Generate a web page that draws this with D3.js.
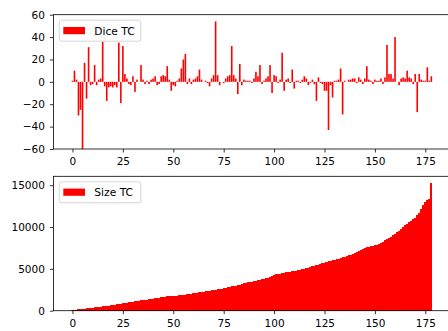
<!DOCTYPE html>
<html>
<head>
<meta charset="utf-8">
<script src="https://cdnjs.cloudflare.com/ajax/libs/d3/7.8.5/d3.min.js"></script>
<style>
  body { margin: 0; background: #fff; }
  text { font-family: "DejaVu Sans", sans-serif; }
</style>
</head>
<body>
<div id="chart"></div>
<script>
// values, one per bar (index 0..178)
var diceTC = [
    1, 10, 2, -30, -25, -60, 17, -15, 31, -3,
    -2, 15, -3, 2, 3, 36, -4, -17, -5, -4,
    -5, -3, -5, 35, -19, 32, 7, 3, -2, -3,
    5, -9, 2, 0, 15, 2, -2, 1, -2, 2,
    3, 5, -3, -2, 5, 6, 5, 14, 2, -8,
    -3, -4, 1, 3, 12, 20, 25, -2, 3, -2,
    2, 3, 5, 11, 2, 0, 1, -1, -4, 3,
    6, 54, 6, -3, 0, -1, 3, 5, 6, 32,
    6, 3, -11, 16, -3, 2, 1, 1, 1, -1,
    3, 9, 5, 15, -2, 1, 3, 5, 15, -10,
    6, 5, -1, 2, 26, -8, 2, 3, -1, 11,
    -6, 1, 1, -1, 2, 5, 3, -3, -1, 2,
    -2, -17, 4, -1, -2, -8, -8, -43, -3, -14,
    1, 1, 2, 12, -29, 1, 0, 2, 2, 3,
    3, -1, 4, 2, -2, 3, 14, 2, 1, -2,
    2, 1, 1, 3, -2, 4, 33, 7, 7, 3,
    40, 0, -3, 3, 4, 3, 10, 4, 3, -2,
    7, -27, 7, 2, 1, 1, 13, 1, 5
];

var sizeTC = [
    60, 90, 120, 150, 180, 210, 240, 270, 300, 340,
    380, 410, 440, 470, 500, 530, 560, 590, 620, 660,
    700, 740, 790, 820, 850, 880, 910, 950, 990, 1030,
    1080, 1110, 1150, 1190, 1220, 1250, 1290, 1320, 1360, 1400,
    1440, 1480, 1520, 1560, 1600, 1640, 1670, 1700, 1720, 1740,
    1760, 1790, 1810, 1840, 1870, 1900, 1930, 1960, 2000, 2030,
    2060, 2100, 2140, 2180, 2220, 2260, 2300, 2340, 2380, 2420,
    2470, 2510, 2550, 2600, 2650, 2700, 2760, 2820, 2870, 2930,
    2960, 2990, 3020, 3100, 3200, 3260, 3320, 3400, 3440, 3480,
    3520, 3560, 3620, 3680, 3740, 3800, 3880, 3960, 4080, 4200,
    4300, 4340, 4380, 4420, 4470, 4520, 4570, 4610, 4650, 4690,
    4720, 4770, 4830, 4880, 4940, 5000, 5060, 5140, 5220, 5290,
    5350, 5420, 5500, 5580, 5650, 5750, 5830, 5900, 5980, 6050,
    6120, 6180, 6230, 6280, 6360, 6450, 6530, 6620, 6700, 6800,
    6900, 7000, 7120, 7260, 7400, 7480, 7560, 7630, 7700, 7780,
    7840, 7900, 7960, 8100, 8260, 8420, 8600, 8700, 8830, 9000,
    9200, 9380, 9560, 9760, 9980, 10200, 10400, 10600, 10780, 10950,
    11100, 11400, 11700, 12100, 12600, 13000, 13200, 13400, 15300
];

var xTicks = [0, 25, 50, 75, 100, 125, 150, 175];
var diceTicks = [-60, -40, -20, 0, 20, 40, 60];
var sizeTicks = [0, 5000, 10000, 15000];

var width = 448,
    height = 331;

var svg = d3.select("#chart").append("svg")
    .attr("width", width)
    .attr("height", height);

// same x for both panels
var x = d3.scaleLinear()
    .domain([-9.45, 187.45])
    .range([53.4, 450.4]);

function drawPanel(data, label, yDomain, yTicks, top, bottom, barW, crisp) {
    var y = d3.scaleLinear().domain(yDomain).range([bottom, top]);
    var g = svg.append("g");
    var bw = (x(1) - x(0)) * barW;

    /* bars */
    g.selectAll("rect.bar")
        .data(data)
        .enter()
        .append("rect")
        .attr("class", "bar")
        .attr("x", function (d, i) { return x(i - barW / 2); })
        .attr("width", bw)
        .attr("y", function (d) { return y(Math.max(0, d)); })
        .attr("height", function (d) { return Math.abs(y(d) - y(0)); })
        .attr("fill", "#ff0000")
        .attr("shape-rendering", crisp ? "crispEdges" : "auto");

    /* frame */
    g.append("rect")
        .attr("x", x.range()[0])
        .attr("y", top)
        .attr("width", x.range()[1] - x.range()[0])
        .attr("height", bottom - top)
        .attr("fill", "none")
        .attr("stroke", "#000")
        .attr("stroke-width", 0.8);

    var xAxis = g.append("g")
        .attr("transform", "translate(0," + bottom + ")")
        .call(d3.axisBottom(x).tickValues(xTicks).tickSize(3.5).tickPadding(5).tickSizeOuter(0));
    var yAxis = g.append("g")
        .attr("transform", "translate(" + x.range()[0] + ",0)")
        .call(d3.axisLeft(y).tickValues(yTicks).tickSize(3.5).tickPadding(5).tickSizeOuter(0).tickFormat(d3.format("d")));

    [xAxis, yAxis].forEach(function (a) {
        a.select(".domain").remove();
        a.selectAll("line").attr("stroke", "#000").attr("stroke-width", 0.8);
        a.selectAll("text")
            .attr("fill", "#000")
            .style("font-size", "10.5px")
            .style("font-family", "'DejaVu Sans', sans-serif");
    });

    /* legend */
    var lg = g.append("g").attr("transform", "translate(59.3," + (top + 5.5) + ")");
    lg.append("rect")
        .attr("width", 81.5)
        .attr("height", 21)
        .attr("rx", 2)
        .attr("fill", "#fff")
        .attr("fill-opacity", 0.8)
        .attr("stroke", "#cccccc")
        .attr("stroke-width", 0.8);
    lg.append("rect")
        .attr("x", 4)
        .attr("y", 6.8)
        .attr("width", 21.7)
        .attr("height", 7.2)
        .attr("fill", "#ff0000");
    lg.append("text")
        .attr("x", 35)
        .attr("y", 14.5)
        .style("font-size", "10.7px")
        .attr("fill", "#000")
        .text(label);
}

drawPanel(diceTC, "Dice TC", [-60, 60], diceTicks, 14.7, 149, 0.8, false);
drawPanel(sizeTC, "Size TC", [0, 16065], sizeTicks, 176.3, 310.7, 1, true);
</script>
</body>
</html>
